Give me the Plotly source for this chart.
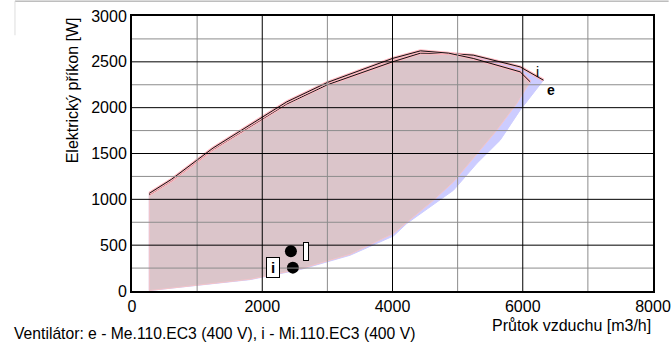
import plotly.graph_objects as go

# Fan operating envelopes (air flow m3/h vs. electric input W)
e_upper_x = [265, 610, 1245, 2376, 3000, 4000, 4430, 4860, 5240, 5960, 6318]
e_upper_y = [1050, 1205, 1545, 2040, 2250, 2500, 2595, 2590, 2573, 2445, 2300]
e_lower_x = [265, 1045, 1813, 2580, 3349, 4014, 4219, 4936, 5294, 5653, 5960, 6318]
e_lower_y = [5, 62, 124, 233, 390, 600, 736, 1099, 1391, 1645, 1973, 2300]

i_upper_x = [265, 610, 1245, 2376, 3000, 4000, 4430, 4860, 5240, 5960, 6114]
i_upper_y = [1065, 1220, 1560, 2063, 2275, 2537, 2620, 2595, 2537, 2391, 2282]
i_lower_x = [265, 1045, 1813, 2580, 3349, 4014, 4629, 4936, 5294, 5601, 5909, 6114]
i_lower_y = [5, 65, 128, 240, 400, 627, 990, 1190, 1500, 1754, 2046, 2282]

# Working points
point_x = [2440, 2470]
point_y = [433, 255]

x_ticks = [0, 2000, 4000, 6000, 8000]
y_ticks = [0, 500, 1000, 1500, 2000, 2500, 3000]
x_minor = [1000, 3000, 5000, 7000]
y_minor = [250, 750, 1250, 1750, 2250, 2750]

FONT = "Liberation Sans, Arial, sans-serif"


def region(ux, uy, lx, ly):
    xs = list(lx) + list(reversed(ux))
    ys = list(ly) + list(reversed(uy))
    return xs + [xs[0]], ys + [ys[0]]


fig = go.Figure()

ex, ey = region(e_upper_x, e_upper_y, e_lower_x, e_lower_y)
fig.add_trace(go.Scatter(x=ex, y=ey, fill="toself", fillcolor="#ccccff",
                         mode="lines", line=dict(color="#ccccff", width=1),
                         hoverinfo="skip", showlegend=False))
ix, iy = region(i_upper_x, i_upper_y, i_lower_x, i_lower_y)
fig.add_trace(go.Scatter(x=ix, y=iy, fill="toself", fillcolor="#dbc5ca",
                         mode="lines", line=dict(color="#f4c4c8", width=1),
                         hoverinfo="skip", showlegend=False))

# Maximum-speed curves
for ux, uy in ((e_upper_x, e_upper_y), (i_upper_x, i_upper_y)):
    fig.add_trace(go.Scatter(x=ux, y=uy, mode="lines",
                             line=dict(color="#ffb8c0", width=3),
                             hoverinfo="skip", showlegend=False))
    fig.add_trace(go.Scatter(x=ux, y=uy, mode="lines",
                             line=dict(color="#111111", width=1),
                             hoverinfo="skip", showlegend=False))

fig.add_trace(go.Scatter(x=point_x, y=point_y, mode="markers",
                         marker=dict(color="black", size=12),
                         hoverinfo="skip", showlegend=False))

# Grid drawn over the filled areas
shapes = []
for v in x_minor:
    shapes.append(dict(type="line", xref="x", yref="paper", x0=v, x1=v, y0=0, y1=1,
                       line=dict(color="#8c8c8c", width=1), layer="above"))
for v in y_minor:
    shapes.append(dict(type="line", xref="paper", yref="y", x0=0, x1=1, y0=v, y1=v,
                       line=dict(color="#8c8c8c", width=1), layer="above"))
for v in x_ticks[1:-1]:
    shapes.append(dict(type="line", xref="x", yref="paper", x0=v, x1=v, y0=0, y1=1,
                       line=dict(color="#000000", width=1), layer="above"))
for v in y_ticks[1:-1]:
    shapes.append(dict(type="line", xref="paper", yref="y", x0=0, x1=1, y0=v, y1=v,
                       line=dict(color="#000000", width=1), layer="above"))
# page frame lines
shapes.append(dict(type="line", xref="paper", yref="paper", x0=-0.2246, x1=1.03,
                   y0=1.054, y1=1.054, line=dict(color="#9a9a9a", width=1)))
shapes.append(dict(type="line", xref="paper", yref="paper", x0=-0.2246, x1=-0.2246,
                   y0=1.054, y1=0.93, line=dict(color="#dddddd", width=1)))

annotations = [
    dict(x=-0.115, y=0.73, xref="paper", yref="paper", text="Elektrický příkon [W]",
         textangle=-90, xanchor="center", yanchor="middle", showarrow=False,
         font=dict(family=FONT, size=16, color="black")),
    dict(x=1.0, y=-0.124, xref="paper", yref="paper", text="Průtok vzduchu [m3/h]",
         xanchor="right", yanchor="middle", showarrow=False,
         font=dict(family=FONT, size=16, color="black")),
    dict(x=-0.231, y=-0.153, xref="paper", yref="paper",
         text="Ventilátor: e - Me.110.EC3 (400 V), i - Mi.110.EC3 (400 V)",
         xanchor="left", yanchor="middle", showarrow=False,
         font=dict(family=FONT, size=15.7, color="black")),
    dict(x=6221, y=2388, text="i", showarrow=False,
         font=dict(family=FONT, size=14, color="black")),
    dict(x=6436, y=2192, text="<b>e</b>", showarrow=False,
         font=dict(family=FONT, size=14, color="black")),
    dict(x=2170, y=255, text="<b>i</b>", showarrow=False, bgcolor="white",
         bordercolor="black", borderwidth=1, borderpad=1, width=10,
         font=dict(family=FONT, size=15, color="black")),
    dict(x=2668, y=433, text=" ", showarrow=False, bgcolor="white",
         bordercolor="black", borderwidth=1, borderpad=0, width=4, height=17,
         font=dict(family=FONT, size=12, color="black")),
]

fig.update_layout(
    width=671, height=343,
    margin=dict(l=132, r=18, t=16, b=52, autoexpand=False),
    paper_bgcolor="white", plot_bgcolor="white",
    shapes=shapes, annotations=annotations,
    font=dict(family=FONT, size=16, color="black"),
    xaxis=dict(range=[0, 8000], tickvals=x_ticks, ticks="", showgrid=False,
               zeroline=False, showline=True, linecolor="black", linewidth=2,
               mirror=True, tickfont=dict(size=16), automargin=False),
    yaxis=dict(range=[0, 3000], tickvals=y_ticks, ticks="", showgrid=False,
               zeroline=False, showline=True, linecolor="black", linewidth=2,
               mirror=True, tickfont=dict(size=16), automargin=False),
)

fig.write_html("out.html")
